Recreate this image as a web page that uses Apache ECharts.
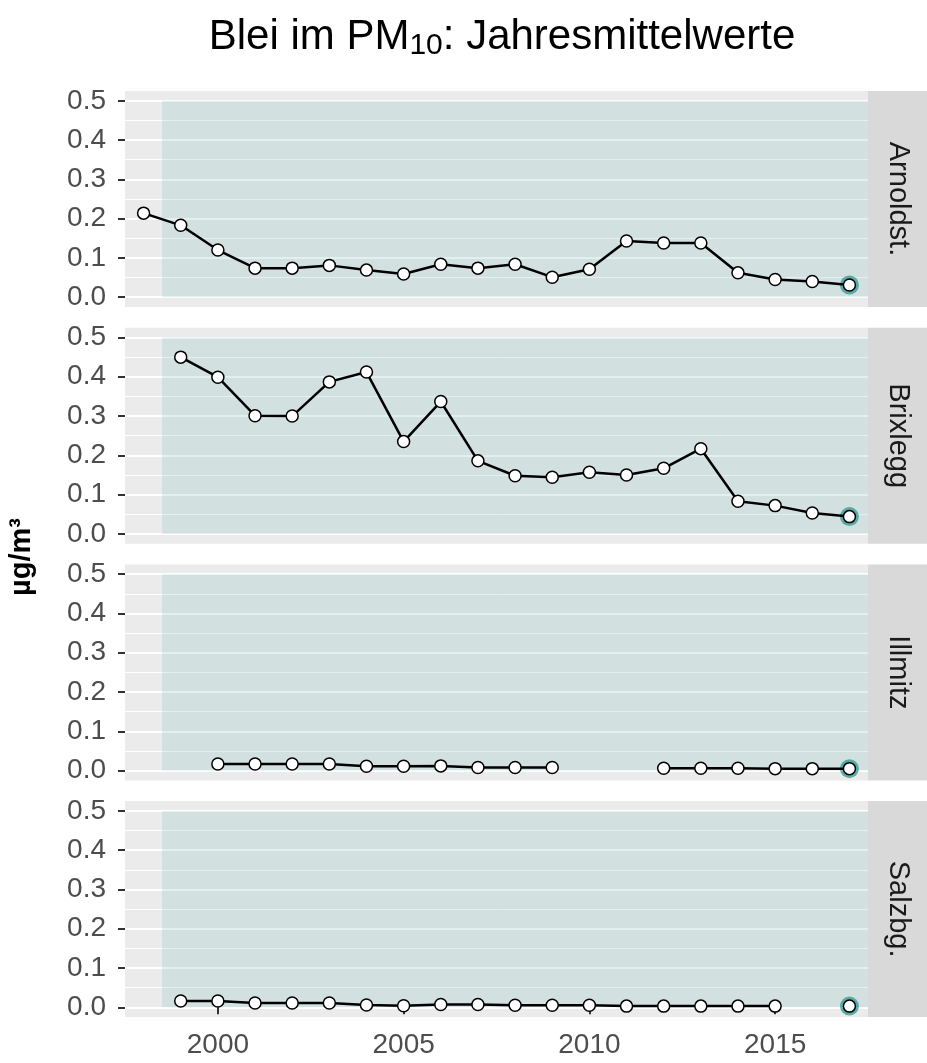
<!DOCTYPE html>
<html>
<head>
<meta charset="utf-8">
<script src="https://cdn.jsdelivr.net/npm/echarts@6/dist/echarts.min.js"></script>
<style>html,body{margin:0;padding:0;background:#fff;}#c{width:927px;height:1063px;}</style>
</head>
<body>
<div id="c"></div>
<script>
const years = [1998,1999,2000,2001,2002,2003,2004,2005,2006,2007,2008,2009,2010,2011,2012,2013,2014,2015,2016,2017];
const stations = ['Arnoldst.','Brixlegg','Illmitz','Salzbg.'];
const arnoldst = [0.214,0.183,0.120,0.074,0.074,0.081,0.069,0.059,0.084,0.074,0.084,0.051,0.071,0.143,0.138,0.138,0.062,0.045,0.040,0.031];
const brixlegg = [null,0.450,0.399,0.301,0.300,0.387,0.412,0.235,0.337,0.186,0.148,0.144,0.157,0.150,0.167,0.217,0.083,0.072,0.053,0.044];
const illmitz  = [null,null,0.017,0.017,0.017,0.017,0.011,0.011,0.012,0.008,0.008,0.008,null,null,0.006,0.006,0.006,0.005,0.005,0.005];
const salzbg   = [null,0.016,0.016,0.011,0.011,0.011,0.006,0.004,0.007,0.007,0.005,0.005,0.005,0.003,0.003,0.003,0.003,0.003,null,0.003];
const highlightYear = 2017;
const shadeRange = [1998.5, 2017.5];
const xTicks = [2000, 2005, 2010, 2015];

const seriesValues = [arnoldst, brixlegg, illmitz, salzbg];

const FONT = 'Liberation Sans, Arial, sans-serif';
const panelLeft = 125, panelRight = 868, stripW = 59;
const panelTop0 = 91, panelStep = 236.7, panelH = 216;
const inset = 9.8;

const chart = echarts.init(document.getElementById('c'), null, {renderer: 'canvas'});

const grids = [], xAxes = [], yAxes = [], series = [], graphics = [];

stations.forEach((name, i) => {
  const top = panelTop0 + i * panelStep;
  grids.push({left: panelLeft, width: panelRight - panelLeft, top: top + inset, height: panelH - 2 * inset, containLabel: false});
  const isLast = i === stations.length - 1;
  xAxes.push({
    type: 'value', gridIndex: i, min: 1997.5, max: 2017.5,
    offset: inset,
    axisLine: {show: false},
    splitLine: {show: false},
    axisTick: {show: isLast, length: 7, lineStyle: {color: '#333333', width: 2}, customValues: xTicks},
    axisLabel: {show: isLast, customValues: xTicks, fontSize: 28, color: '#4d4d4d', fontFamily: FONT, margin: 14,
      formatter: v => String(v)}
  });
  yAxes.push({
    type: 'value', gridIndex: i, min: 0, max: 0.5, interval: 0.1,
    axisLine: {show: false},
    axisTick: {show: true, length: 7, lineStyle: {color: '#333333', width: 2}},
    axisLabel: {fontSize: 28, color: '#4d4d4d', fontFamily: FONT, margin: 19, formatter: v => v.toFixed(1)},
    splitLine: {show: true, lineStyle: {color: '#ffffff', width: 2}},
    minorTick: {show: false, splitNumber: 2},
    minorSplitLine: {show: true, lineStyle: {color: '#ffffff', width: 1}}
  });
  graphics.push({type: 'rect', z: -10, silent: true,
    shape: {x: panelLeft, y: top, width: panelRight - panelLeft, height: panelH},
    style: {fill: '#ebebeb'}});
  graphics.push({type: 'rect', z: -10, silent: true,
    shape: {x: panelRight, y: top, width: stripW, height: panelH},
    style: {fill: '#d9d9d9'}});
  graphics.push({type: 'text', silent: true, z: 5,
    x: panelRight + stripW / 2, y: top + panelH / 2, rotation: -Math.PI / 2,
    style: {text: name, fontSize: 29, fill: '#1a1a1a', fontFamily: FONT, align: 'center', verticalAlign: 'middle'}});

  const vals = seriesValues[i];
  const data = years.map((y, k) => [y, vals[k]]);
  series.push({
    type: 'line', xAxisIndex: i, yAxisIndex: i, data: [], z: 1, silent: true,
    markArea: {silent: true, itemStyle: {color: 'rgba(110,182,178,0.2)'},
      data: [[{coord: [shadeRange[0], 0]}, {coord: [shadeRange[1], 0.5]}]]}
  });
  const hk = years.indexOf(highlightYear);
  series.push({
    type: 'scatter', xAxisIndex: i, yAxisIndex: i, z: 2, silent: true,
    data: [[highlightYear, vals[hk]]], symbolSize: 19, clip: false,
    itemStyle: {color: '#3a9c97'}
  });
  series.push({
    type: 'line', xAxisIndex: i, yAxisIndex: i, z: 3, data: data, connectNulls: false,
    symbol: 'circle', symbolSize: 12, showAllSymbol: true, clip: false, silent: true,
    lineStyle: {color: '#000000', width: 2.5},
    itemStyle: {color: '#ffffff', borderColor: '#000000', borderWidth: 1.5},
    emphasis: {disabled: true}
  });
});

graphics.push({type: 'text', silent: true, x: 22, y: 557, rotation: Math.PI / 2,
  style: {text: 'µg/m³', fontSize: 29, fontWeight: 'bold', fill: '#000', fontFamily: FONT, align: 'center', verticalAlign: 'middle'}});

chart.setOption({
  animation: false,
  backgroundColor: '#ffffff',
  title: {
    text: 'Blei im PM{sub|10}: Jahresmittelwerte',
    left: 497, top: 8, textAlign: 'center',
    textStyle: {fontSize: 42, fontWeight: 'normal', color: '#000', fontFamily: FONT,
      rich: {sub: {fontSize: 30, verticalAlign: 'bottom', padding: [18, 0, 0, 0], fontFamily: FONT}}}
  },
  grid: grids, xAxis: xAxes, yAxis: yAxes, series: series, graphic: graphics
});
</script>
</body>
</html>
